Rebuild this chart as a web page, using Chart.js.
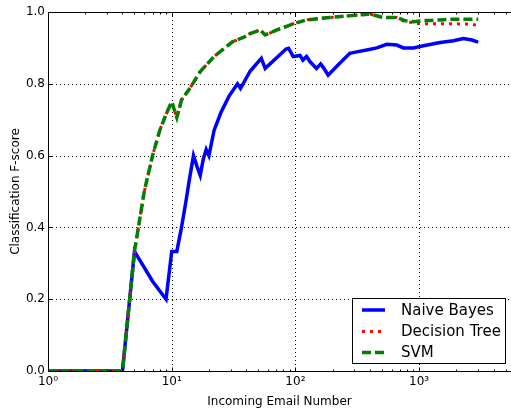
<!DOCTYPE html>
<html>
<head>
<meta charset="utf-8">
<script src="https://cdn.jsdelivr.net/npm/chart.js@4/dist/chart.umd.min.js"></script>
<style>
body { margin: 0; background: #fff; }
canvas { display: block; }
</style>
</head>
<body>
<canvas id="myChart" width="511" height="413"></canvas>
<script>
// valores
var nbX = [1,4,5,7,9,10,11,12,13,14,15,16,17,18,19,20,22,25,29,34,36,43,53,57,84,88,96,109,115,123,131,148,160,170,184,215,275,313,377,455,548,659,747,899,1086,1480,1894,2280,2670,3000];
var nbY = [0,0,0.333,0.25,0.2,0.333,0.333,0.4,0.47,0.54,0.6,0.57,0.545,0.59,0.617,0.6,0.67,0.72,0.765,0.8,0.787,0.835,0.871,0.843,0.897,0.899,0.876,0.879,0.866,0.876,0.862,0.843,0.855,0.843,0.824,0.848,0.885,0.889,0.894,0.9,0.91,0.908,0.9,0.9,0.906,0.915,0.92,0.926,0.922,0.916];

var dtX = [1,4,5,6,7,8,9,10,11,12,14,17,22,31,39,43,52,57,71,96,123,179,260,390,425,510,659,747,958,1390,2025,2670,3000];
var dtY = [0,0,0.333,0.5,0.6,0.67,0.715,0.75,0.706,0.755,0.787,0.834,0.876,0.917,0.931,0.94,0.95,0.936,0.95,0.967,0.978,0.984,0.989,0.994,0.992,0.985,0.985,0.975,0.968,0.967,0.967,0.966,0.962];

var svmX = [1,4,5,6,7,8,9,10,11,12,14,17,22,31,39,43,52,57,71,96,123,179,260,390,425,510,659,770,899,1086,1221,1480,1774,2280,3000];
var svmY = [0,0,0.333,0.5,0.6,0.67,0.715,0.75,0.706,0.755,0.787,0.834,0.876,0.917,0.931,0.94,0.95,0.936,0.95,0.967,0.978,0.984,0.989,0.994,0.992,0.985,0.985,0.976,0.973,0.976,0.976,0.978,0.98,0.98,0.98];

var xTicks = [1, 10, 100, 1000];
var yTicks = [0, 0.2, 0.4, 0.6, 0.8, 1.0];
var labels = ['Naive Bayes', 'Decision Tree', 'SVM'];

function pontos(xs, ys) {
	var out = [];
	for (var i = 0; i < xs.length; i++) {
		out.push({x: xs[i], y: ys[i]});
	}
	return out;
}

var sup = {0: '\u2070', 1: '\u00B9', 2: '\u00B2', 3: '\u00B3'};
var fonte = 'DejaVu Sans';

var moldura = {
	id: 'moldura',
	beforeDatasetsDraw: function (chart) {
		var ctx = chart.ctx;
		var a = chart.chartArea;
		var xs = chart.scales.x, ys = chart.scales.y;
		ctx.save();
		ctx.strokeStyle = '#000';
		ctx.lineWidth = 1;
		ctx.setLineDash([1, 3]);
		for (var i = 1; i < xTicks.length; i++) {
			var px = Math.round(xs.getPixelForValue(xTicks[i])) + 0.5;
			ctx.beginPath(); ctx.moveTo(px, a.top); ctx.lineTo(px, a.bottom); ctx.stroke();
		}
		for (var j = 1; j < yTicks.length - 1; j++) {
			var py = Math.round(ys.getPixelForValue(yTicks[j])) + 0.5;
			ctx.beginPath(); ctx.moveTo(a.left, py); ctx.lineTo(a.right, py); ctx.stroke();
		}
		ctx.restore();
	},
	afterDatasetsDraw: function (chart) {
		var ctx = chart.ctx;
		var a = chart.chartArea;
		var xs = chart.scales.x, ys = chart.scales.y;
		var L = Math.round(a.left) + 0.5, T = Math.round(a.top) + 0.5, B = Math.round(a.bottom) + 0.5, R = a.right + 2;
		ctx.save();
		ctx.strokeStyle = '#000';
		ctx.lineWidth = 1;
		ctx.beginPath();
		ctx.moveTo(R, T); ctx.lineTo(L, T); ctx.lineTo(L, B); ctx.lineTo(R, B);
		ctx.stroke();

		// ticks maiores e menores
		ctx.beginPath();
		for (var d = 1; d <= 1000; d *= 10) {
			for (var k = 1; k < 10; k++) {
				var v = d * k;
				if (v > xs.max) break;
				var px = Math.round(xs.getPixelForValue(v)) + 0.5;
				var len = k === 1 ? 4 : 2;
				ctx.moveTo(px, B); ctx.lineTo(px, B - len);
				ctx.moveTo(px, T); ctx.lineTo(px, T + len);
			}
		}
		for (var j = 0; j < yTicks.length; j++) {
			var py = Math.round(ys.getPixelForValue(yTicks[j])) + 0.5;
			ctx.moveTo(L, py); ctx.lineTo(L + 4, py);
		}
		ctx.stroke();

		// legenda
		var bx = 352.5, by = 298.5, bw = 153, bh = 65;
		ctx.fillStyle = '#fff';
		ctx.fillRect(bx, by, bw, bh);
		ctx.strokeRect(bx, by, bw, bh);
		var rows = [310, 331.5, 352.5];
		ctx.font = '15px "' + fonte + '"';
		ctx.textBaseline = 'middle';
		var ds = chart.data.datasets;
		for (var r = 0; r < ds.length; r++) {
			ctx.save();
			ctx.strokeStyle = ds[r].borderColor;
			ctx.lineWidth = ds[r].borderWidth;
			ctx.setLineDash(ds[r].borderDash || []);
			ctx.beginPath(); ctx.moveTo(362, rows[r]); ctx.lineTo(385, rows[r]); ctx.stroke();
			ctx.restore();
			ctx.fillStyle = '#000';
			ctx.fillText(ds[r].label, 401, rows[r] + 1);
		}
		ctx.restore();
	}
};

var ctx = document.getElementById('myChart').getContext('2d');
var myChart = new Chart(ctx, {
	type: 'line',
	data: {
		datasets: [{
			label: labels[0],
			data: pontos(nbX, nbY),
			borderColor: '#0000ff',
			borderWidth: 3.5,
			order: 3
		}, {
			label: labels[1],
			data: pontos(dtX, dtY),
			borderColor: '#ff0000',
			borderWidth: 3,
			borderDash: [3, 5],
			order: 2
		}, {
			label: labels[2],
			data: pontos(svmX, svmY),
			borderColor: '#008000',
			borderWidth: 3.5,
			borderDash: [9, 4],
			order: 1
		}]
	},
	options: {
		responsive: false,
		animation: false,
		devicePixelRatio: 1,
		layout: { padding: { top: 12, right: 0, left: 0, bottom: 0 } },
		elements: { point: { radius: 0 }, line: { tension: 0, borderCapStyle: 'butt' } },
		plugins: { legend: { display: false }, tooltip: { enabled: false } },
		scales: {
			x: {
				type: 'logarithmic',
				min: 1,
				max: 5530,
				grid: { display: false, drawTicks: false },
				border: { display: false },
				afterBuildTicks: function (scale) {
					scale.ticks = xTicks.map(function (v) { return {value: v}; });
				},
				afterFit: function (scale) { scale.height = 42; },
				ticks: {
					autoSkip: false,
					maxRotation: 0,
					padding: 4,
					color: '#000',
					font: { family: fonte, size: 12 },
					callback: function (v) { return '10' + sup[Math.round(Math.log10(v))]; }
				},
				title: {
					display: true,
					text: 'Incoming Email Number',
					color: '#000',
					font: { family: fonte, size: 12 },
					padding: { top: 0, bottom: 4 }
				}
			},
			y: {
				min: 0,
				max: 1,
				grid: { display: false, drawTicks: false },
				border: { display: false },
				afterBuildTicks: function (scale) {
					scale.ticks = yTicks.map(function (v) { return {value: v}; });
				},
				afterFit: function (scale) { scale.width = 48; },
				ticks: {
					padding: 3,
					color: '#000',
					font: { family: fonte, size: 12 },
					callback: function (v) { return v.toFixed(1); }
				},
				title: {
					display: true,
					text: 'Classification F-score',
					color: '#000',
					font: { family: fonte, size: 12 },
					padding: { top: 9, bottom: 0 }
				}
			}
		}
	},
	plugins: [moldura]
});
</script>
</body>
</html>
